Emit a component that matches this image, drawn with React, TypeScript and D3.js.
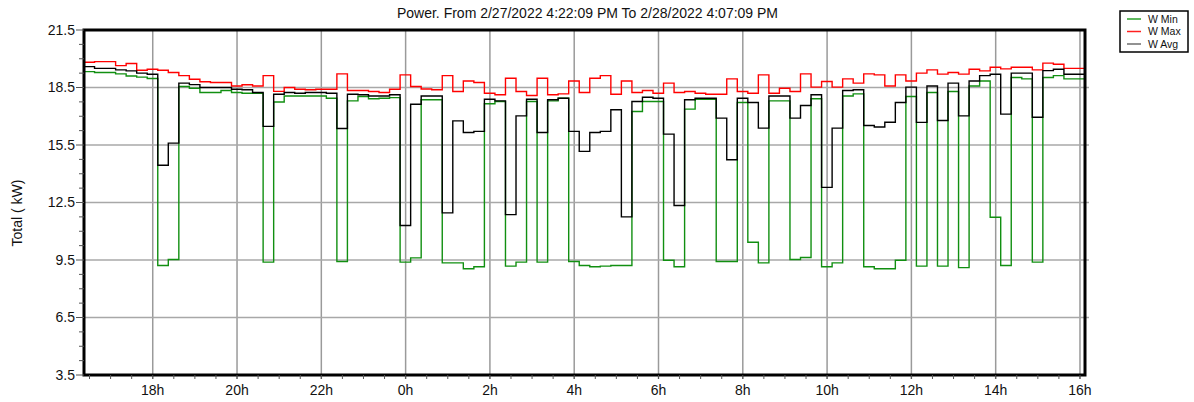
import React from "react";
import * as d3 from "d3";

const TITLE = "Power. From 2/27/2022 4:22:09 PM To 2/28/2022 4:07:09 PM";
const Y_LABEL = "Total ( kW)";
const SERIES_NAMES = ["W Min", "W Max", "W Avg"];
const START = new Date(2022, 1, 27, 16, 22, 9);
const STEP_MIN = 15;

const wMax = [
  19.82, 19.85, 19.85, 19.64, 19.75, 19.4, 19.45, 19.4, 19.28, 19.12,
  18.93, 18.8, 18.76, 18.76, 18.58, 18.64, 18.58, 19.12, 18.3, 18.5,
  18.41, 18.38, 18.41, 18.41, 19.21, 18.34, 18.34, 18.29, 18.24, 18.41,
  19.16, 18.55, 18.42, 18.38, 19.12, 18.29, 18.84, 18.76, 18.2, 18.12,
  18.98, 18.29, 18.08, 18.98, 18.12, 18.17, 18.84, 18.24, 18.98, 19.12,
  18.15, 18.84, 18.24, 18.34, 18.2, 18.73, 18.24, 18.29, 18.2, 18.15,
  18.15, 18.95, 18.29, 18.2, 19.16, 18.2, 18.46, 18.29, 19.21, 18.52,
  18.81, 18.52, 18.95, 18.73, 19.21, 19.16, 18.58, 19.16, 18.84, 19.25,
  19.42, 19.2, 19.28, 19.2, 19.45, 19.37, 19.56, 19.47, 19.56, 19.56,
  19.42, 19.77, 19.71, 19.5, 19.5,
];

const wAvg = [
  19.59, 19.5, 19.5, 19.42, 19.37, 19.25, 19.19, 14.44, 15.6, 18.73,
  18.65, 18.5, 18.5, 18.5, 18.41, 18.38, 18.24, 16.47, 18.15, 18.24,
  18.2, 18.24, 18.24, 18.2, 16.36, 18.15, 18.12, 18.06, 18.06, 18.12,
  11.3, 17.63, 18.06, 18.06, 11.96, 16.76, 16.15, 16.21, 17.89, 17.8,
  11.87, 17.02, 17.89, 16.15, 17.86, 17.94, 16.21, 15.17, 16.15, 16.21,
  17.34, 11.75, 17.77, 17.99, 17.94, 16.07, 12.34, 17.86, 17.94, 17.94,
  16.9, 14.73, 17.94, 17.72, 16.38, 18.06, 18.06, 16.9, 17.56, 18.12,
  13.29, 16.38, 18.34, 18.38, 16.52, 16.44, 16.69, 17.72, 18.52, 16.68,
  18.58, 16.78, 18.73, 17.02, 18.84, 19.12, 19.19, 17.11, 19.25, 19.25,
  16.95, 19.38, 19.45, 19.19, 19.19,
];

const wMin = [
  19.33, 19.28, 19.28, 19.21, 19.1, 19.04, 18.97, 9.21, 9.53, 18.55,
  18.46, 18.24, 18.24, 18.34, 18.24, 18.2, 18.2, 9.39, 17.74, 18.06,
  18.06, 18.06, 18.06, 17.94, 9.42, 17.8, 18.03, 17.91, 17.94, 17.97,
  9.39, 9.61, 17.86, 17.86, 9.35, 9.35, 9.04, 9.15, 17.65, 17.77,
  9.18, 9.39, 17.77, 9.39, 17.8, 17.94, 9.42, 9.21, 9.15, 9.18,
  9.21, 9.21, 17.25, 17.77, 17.77, 9.49, 9.15, 17.37, 17.89, 17.89,
  9.42, 9.42, 17.72, 10.43, 9.35, 17.8, 17.8, 9.53, 9.63, 17.91,
  9.15, 9.35, 18.06, 18.17, 9.15, 9.04, 9.04, 9.49, 18.03, 9.18,
  18.24, 9.18, 18.29, 9.1, 18.58, 18.84, 11.73, 9.21, 19.02, 18.95,
  9.39, 19.02, 19.12, 18.95, 18.95,
];

const Y_MIN = 3.5;
const Y_MAX = 21.5;
const Y_MAJOR = 3;
const Y_MINOR = 0.75;

const W = 1194;
const H = 402;
const L = 84, R = 1085, T = 30, B = 375;
const FONT = "'Liberation Sans', Arial, sans-serif";

export default function App() {
  const n = wMax.length;
  const times = d3.range(n + 1).map((i) => new Date(START.getTime() + i * STEP_MIN * 60000));
  const x = d3.scaleTime().domain([times[0], times[n]]).range([L, R]);
  const y = d3.scaleLinear().domain([Y_MIN, Y_MAX]).range([B, T]);

  const line = d3
    .line<[Date, number]>()
    .x((d) => x(d[0]))
    .y((d) => y(d[1]))
    .curve(d3.curveStepAfter);
  const pts = (arr: number[]) =>
    [...arr.map((v, i) => [times[i], v] as [Date, number]), [times[n], arr[n - 1]] as [Date, number]];

  const majorX = x.ticks(d3.timeHour.every(2) as any);
  const minorX = x.ticks(d3.timeMinute.every(30) as any);
  const majorY = d3.range(Y_MIN, Y_MAX + 0.001, Y_MAJOR);
  const minorY = d3.range(Y_MIN, Y_MAX + 0.001, Y_MINOR);

  const series = [
    { name: SERIES_NAMES[0], data: wMin, color: "#118f11", legend: "#2aa02a" },
    { name: SERIES_NAMES[1], data: wMax, color: "#ff0000", legend: "#ff2020" },
    { name: SERIES_NAMES[2], data: wAvg, color: "#000000", legend: "#6e6e6e" },
  ];

  return (
    <svg width={W} height={H} style={{ position: "absolute", left: 0, top: 0, background: "#fff" }} fontFamily={FONT}>
      <rect x={0} y={0} width={W} height={H} fill="#fff" />
      <text x={(L + R) / 2 + 3} y={18} textAnchor="middle" fontSize={14} fill="#111">
        {TITLE}
      </text>
      {/* grid */}
      {majorX.map((t, i) => (
        <line key={"gx" + i} x1={x(t)} x2={x(t)} y1={T} y2={B + 4} stroke="#9a9a9a" strokeWidth={1.5} />
      ))}
      {majorY.filter((v) => v > Y_MIN && v < Y_MAX).map((v, i) => (
        <line key={"gy" + i} x1={L} x2={R + 4} y1={y(v)} y2={y(v)} stroke="#a8a8a8" strokeWidth={1.6} />
      ))}
      {/* series */}
      {[series[0], series[1], series[2]].map((s) => (
        <path key={s.name} d={line(pts(s.data)) || ""} fill="none" stroke={s.color} strokeWidth={1.4} />
      ))}
      {/* frame */}
      <rect x={L} y={T} width={R - L} height={B - T} fill="none" stroke="#000" strokeWidth={3} />
      {/* y ticks */}
      {minorY.map((v, i) => {
        const major = Math.abs(((v - Y_MIN) / Y_MAJOR) - Math.round((v - Y_MIN) / Y_MAJOR)) < 1e-6;
        return (
          <line key={"ty" + i} x1={L - (major ? 8 : 5)} x2={L} y1={y(v)} y2={y(v)} stroke="#555" strokeWidth={1} />
        );
      })}
      {majorY.map((v, i) => (
        <text key={"ly" + i} x={L - 9} y={y(v)} dy="0.35em" textAnchor="end" fontSize={14} fill="#111">
          {v.toFixed(1)}
        </text>
      ))}
      {/* x ticks */}
      {minorX.map((t, i) => (
        <line key={"tx" + i} x1={x(t)} x2={x(t)} y1={B} y2={B + 4} stroke="#555" strokeWidth={1} />
      ))}
      {majorX.map((t, i) => (
        <text key={"lx" + i} x={x(t)} y={395} textAnchor="middle" fontSize={14} fill="#111">
          {`${(t as Date).getHours()}h`}
        </text>
      ))}
      <text transform={`translate(22,${213}) rotate(-90)`} textAnchor="middle" fontSize={14} fill="#111">
        {Y_LABEL}
      </text>
      {/* legend */}
      <rect x={1120} y={11} width={68} height={41} fill="#fff" stroke="#000" strokeWidth={1.5} />
      {series.map((s, i) => (
        <g key={"lg" + i} transform={`translate(1127,${19 + i * 12.5})`}>
          <line x1={0} x2={14} y1={0} y2={0} stroke={s.legend} strokeWidth={1.5} />
          <text x={21} y={0} dy="0.35em" fontSize={10.5} fill="#111">
            {s.name}
          </text>
        </g>
      ))}
    </svg>
  );
}
